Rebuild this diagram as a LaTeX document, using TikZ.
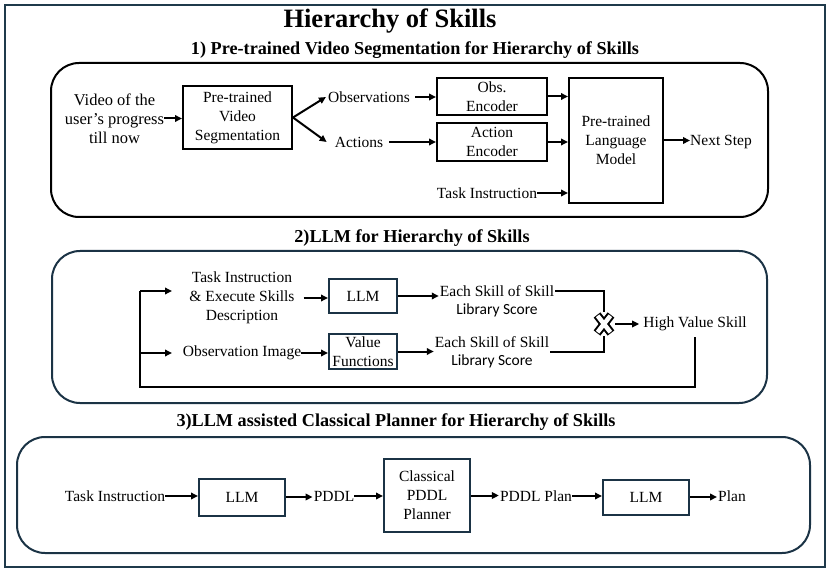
\documentclass[tikz,border=0pt]{standalone}
\usepackage{fontspec}
\setmainfont{Liberation Serif}
\newfontfamily\carlito{Carlito}
\usetikzlibrary{arrows.meta}
\definecolor{framecol}{HTML}{1F3A4B}
\definecolor{navy}{HTML}{1B3345}
\tikzset{
  txt/.style={inner sep=0pt, align=center, font=\fontsize{15.5}{19}\selectfont},
  blk/.style={draw=black, line width=2pt, inner sep=0pt, align=center, font=\fontsize{15.5}{19}\selectfont},
  nbox/.style={draw=navy, line width=2pt, inner sep=0pt, align=center, font=\fontsize{15.5}{19}\selectfont},
  arr/.style={line width=2pt, -{Triangle[length=7pt,width=6.5pt]}},
  ln/.style={line width=2pt},
  sec/.style={inner sep=0pt, font=\bfseries\fontsize{18.2}{21}\selectfont},
  container/.style={line width=2pt, rounded corners=28pt, inner sep=0pt},
}
\begin{document}
\begin{tikzpicture}[x=1pt,y=-1pt]
\useasboundingbox (0,0) rectangle (830,572);
\node[draw=framecol, line width=2.5pt, minimum width=820, minimum height=562, inner sep=0pt] (frame) at (415,286) {};
\node[inner sep=0pt, font=\bfseries\fontsize{26.5}{30}\selectfont] (title) at (390,21) {Hierarchy of Skills};

% ---------- Section 1 ----------
\node[sec] (h1) at (415,50) {1) Pre-trained Video Segmentation for Hierarchy of Skills};
\node[container, draw=black, minimum width=717, minimum height=154] (s1) at (409.5,140) {};
\node[txt, font=\fontsize{16.5}{19}\selectfont] (vid) at (114.5,118.5) {Video of the\\user’s progress\\till now};
\node[blk, minimum width=109, minimum height=63] (seg) at (237.5,117.5) {Pre-trained\\Video\\Segmentation};
\node[txt] (obs) at (369,97) {Observations};
\node[txt] (act) at (359,142) {Actions};
\node[blk, minimum width=110, minimum height=37] (oenc) at (492,96.5) {Obs.\\Encoder};
\node[blk, minimum width=110, minimum height=38] (aenc) at (492,142) {Action\\Encoder};
\node[blk, minimum width=94, minimum height=125] (plm) at (616,140.5) {Pre-trained\\Language\\Model};
\node[txt] (ti1) at (487,193) {Task Instruction};
\node[txt] (next) at (721,142) {Next Step};

\draw[arr] (vid.east) -- (vid.east -| seg.west);
\draw[arr] (seg.east) -- ([xshift=-2pt]obs.west);
\draw[arr] (seg.east) -- ([xshift=-8pt]act.west);
\draw[arr, shorten <=5pt] (obs.east) -- (obs.east -| oenc.west);
\draw[arr, shorten <=6pt] (act.east) -- (act.east -| aenc.west);
\draw[arr] (oenc.east) -- (oenc.east -| plm.west);
\draw[arr] (aenc.east) -- (aenc.east -| plm.west);
\draw[arr] (ti1.east) -- (ti1.east -| plm.west);
\draw[arr] (plm.east) -- (plm.east -| next.west);

% ---------- Section 2 ----------
\node[sec] (h2) at (412,238) {2)LLM for Hierarchy of Skills};
\node[container, draw=navy, minimum width=715, minimum height=152] (s2) at (409.5,327) {};
\node[txt] (tied) at (242,298) {Task Instruction\\\& Execute Skills\\Description};
\node[nbox, minimum width=68, minimum height=34] (llm2) at (363,296) {LLM};
\node[txt] (obsimg) at (242,353) {Observation Image};
\node[nbox, minimum width=68, minimum height=35] (vf) at (363,351.5) {Value\\Functions};
\node[txt] (each1) at (497,291) {Each Skill of Skill};
\node[txt, font=\carlito\fontsize{15.5}{19}\selectfont] (lib1) at (497,310) {Library Score};
\node[txt] (each2) at (492,342) {Each Skill of Skill};
\node[txt, font=\carlito\fontsize{15.5}{19}\selectfont] (lib2) at (492,361) {Library Score};
\node[inner sep=0pt, minimum width=22, minimum height=24] (mul) at (604,324) {};
\node[txt] (hvs) at (695,324) {High Value Skill};
\coordinate (fbl) at (140,387);
\coordinate (b1) at (140,291);
\coordinate (b2) at (140,353);
\coordinate (t1) at (172,291);
\coordinate (t2) at (172,353);
\coordinate (e2) at ([shift={(1,4)}]each2.south east);

\draw[line width=8.5pt, black] ([shift={(-7,-9)}]mul.center) -- ([shift={(7,9)}]mul.center);
\draw[line width=8.5pt, black] ([shift={(7,-9)}]mul.center) -- ([shift={(-7,9)}]mul.center);
\draw[line width=4.5pt, white, shorten <=1pt, shorten >=1pt] ([shift={(-7,-9)}]mul.center) -- ([shift={(7,9)}]mul.center);
\draw[line width=4.5pt, white, shorten <=1pt, shorten >=1pt] ([shift={(7,-9)}]mul.center) -- ([shift={(-7,9)}]mul.center);

\draw[arr, shorten <=9pt] (tied.east) -- (tied.east -| llm2.west);
\draw[arr] (obsimg.east) -- (obsimg.east -| vf.west);
\draw[arr] (llm2.east) -- ([xshift=-1pt]llm2.east -| each1.west);
\draw[arr] (vf.east) -- ([xshift=-1pt]vf.east -| each2.west);
\draw[ln] ([xshift=1pt]each1.east) -- (each1.east -| mul.north) -- (mul.north);
\draw[ln] (e2) -- (e2 -| mul.south) -- (mul.south);
\draw[arr, shorten >=4pt] (mul.east) -- (hvs.west);
\draw[ln] ([yshift=-6pt]hvs.south) -- (hvs.south |- fbl) -- (fbl) -- (b1);
\draw[arr] (b1) -- (t1);
\draw[arr] (b2) -- (t2);

% ---------- Section 3 ----------
\node[sec] (h3) at (396,422) {3)LLM assisted Classical Planner for Hierarchy of Skills};
\node[container, draw=navy, minimum width=793, minimum height=116] (s3) at (413.5,495) {};
\node[txt] (ti3) at (115,496) {Task Instruction};
\node[nbox, minimum width=86, minimum height=37] (llm3a) at (242,497) {LLM};
\node[txt] (pddl) at (334,496) {PDDL};
\node[nbox, minimum width=86, minimum height=73] (cpp) at (427,495.5) {Classical\\PDDL\\Planner};
\node[txt] (pplan) at (536,496) {PDDL Plan};
\node[nbox, minimum width=86, minimum height=35] (llm3b) at (646,497) {LLM};
\node[txt] (plan) at (732,496) {Plan};

\draw[arr] (ti3.east) -- (ti3.east -| llm3a.west);
\draw[arr] (llm3a.east) -- ([xshift=-1pt]llm3a.east -| pddl.west);
\draw[arr] (pddl.east) -- (pddl.east -| cpp.west);
\draw[arr] (cpp.east) -- ([xshift=-1pt]cpp.east -| pplan.west);
\draw[arr] (pplan.east) -- (pplan.east -| llm3b.west);
\draw[arr] (llm3b.east) -- ([xshift=-1pt]llm3b.east -| plan.west);
\end{tikzpicture}
\end{document}
